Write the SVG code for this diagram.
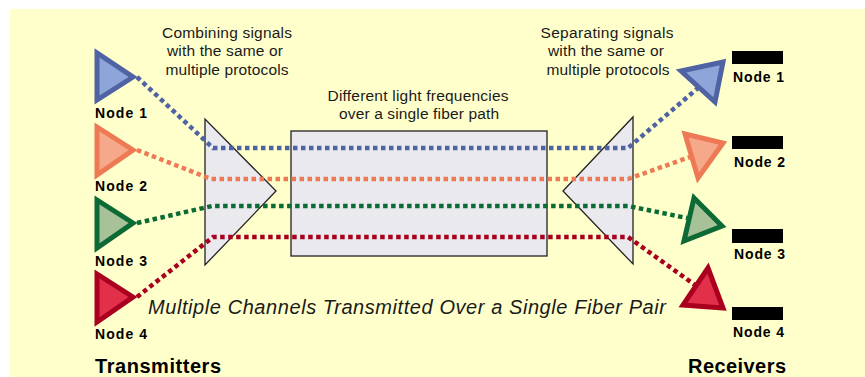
<svg xmlns="http://www.w3.org/2000/svg" width="865" height="377" viewBox="0 0 865 377">
<style>
.t{font-family:"Liberation Sans",Arial,sans-serif;fill:#1a1a1a}
.c{font-size:15.5px;text-anchor:middle}
.n{font-size:14px;font-weight:bold;fill:#000}
.h{font-size:20px;font-weight:bold;fill:#000}
.dev{fill:#E9E9EE;stroke:#222;stroke-width:1.3}
.ln{fill:none;stroke-width:4.5;stroke-dasharray:4.5 3.5;stroke-linejoin:round}
.tri{stroke-width:5;stroke-linejoin:miter}
.blue{stroke:#4F63A4}.orange{stroke:#EE7A55}.green{stroke:#0C6A35}.red{stroke:#A8001E}
</style>
<rect x="10" y="9" width="855" height="368" fill="#FFFFCC"/>
<g id="combiner"><polygon class="dev" points="205,119 205,265 276,191"/></g>
<g id="fiber"><rect class="dev" x="291" y="131" width="256" height="125"/></g>
<g id="separator"><polygon class="dev" points="633,117 633,264 563,191"/></g>
<g id="connectors">
<polyline class="ln blue" points="137,77 213,148 628,148 698,88"/>
<polyline class="ln orange" points="137,150 211,179 628,179 690,157"/>
<polyline class="ln green" points="137,223 212,206 628,206 687,218"/>
<polyline class="ln red" points="137,297 213,237 628,237 695,285"/>
</g>
<g id="tx1"><polygon class="tri blue" fill="#8DA5D8" points="97,53 97,100 133,77"/><text class="t n" x="95" y="118" textLength="52">Node 1</text></g>
<g id="tx2"><polygon class="tri orange" fill="#F5A98A" points="97,127 97,175 133,150"/><text class="t n" x="95" y="191" textLength="52">Node 2</text></g>
<g id="tx3"><polygon class="tri green" fill="#A7C198" points="97,200 97,248 133,223"/><text class="t n" x="95" y="266" textLength="52">Node 3</text></g>
<g id="tx4"><polygon class="tri red" fill="#E3304A" points="97,274 97,322 133,297"/><text class="t n" x="95" y="339" textLength="52">Node 4</text></g>
<g id="rx1"><polygon class="tri blue" fill="#8DA5D8" points="681,71 723,62 715,102"/><rect x="732" y="51" width="51" height="13" fill="#000"/><text class="t n" x="733" y="82" textLength="51">Node 1</text></g>
<g id="rx2"><polygon class="tri orange" fill="#F5A98A" points="685,134 723,143 698,178"/><rect x="732" y="136" width="51" height="13" fill="#000"/><text class="t n" x="734" y="167" textLength="51">Node 2</text></g>
<g id="rx3"><polygon class="tri green" fill="#A7C198" points="694,198 722,226 684,241"/><rect x="732" y="229" width="51" height="14" fill="#000"/><text class="t n" x="734" y="259" textLength="51">Node 3</text></g>
<g id="rx4"><polygon class="tri red" fill="#E3304A" points="708,268 723,308 683,305"/><rect x="732" y="307" width="51" height="13" fill="#000"/><text class="t n" x="733" y="337" textLength="51">Node 4</text></g>
<g id="labels">
<text class="t c" x="227" y="38" textLength="130">Combining signals</text>
<text class="t c" x="225" y="56" textLength="116">with the same or</text>
<text class="t c" x="227" y="75" textLength="123">multiple protocols</text>
<text class="t c" x="607" y="38" textLength="133">Separating signals</text>
<text class="t c" x="606" y="56" textLength="116">with the same or</text>
<text class="t c" x="608" y="75" textLength="123">multiple protocols</text>
<text class="t c" x="418" y="101" textLength="181">Different light frequencies</text>
<text class="t c" x="419" y="119" textLength="160">over a single fiber path</text>
<text class="t" x="148" y="314" font-size="20" font-style="italic" textLength="518">Multiple Channels Transmitted Over a Single Fiber Pair</text>
<text class="t h" x="95" y="373" textLength="126">Transmitters</text>
<text class="t h" x="688" y="373" textLength="98">Receivers</text>
</g>
</svg>
